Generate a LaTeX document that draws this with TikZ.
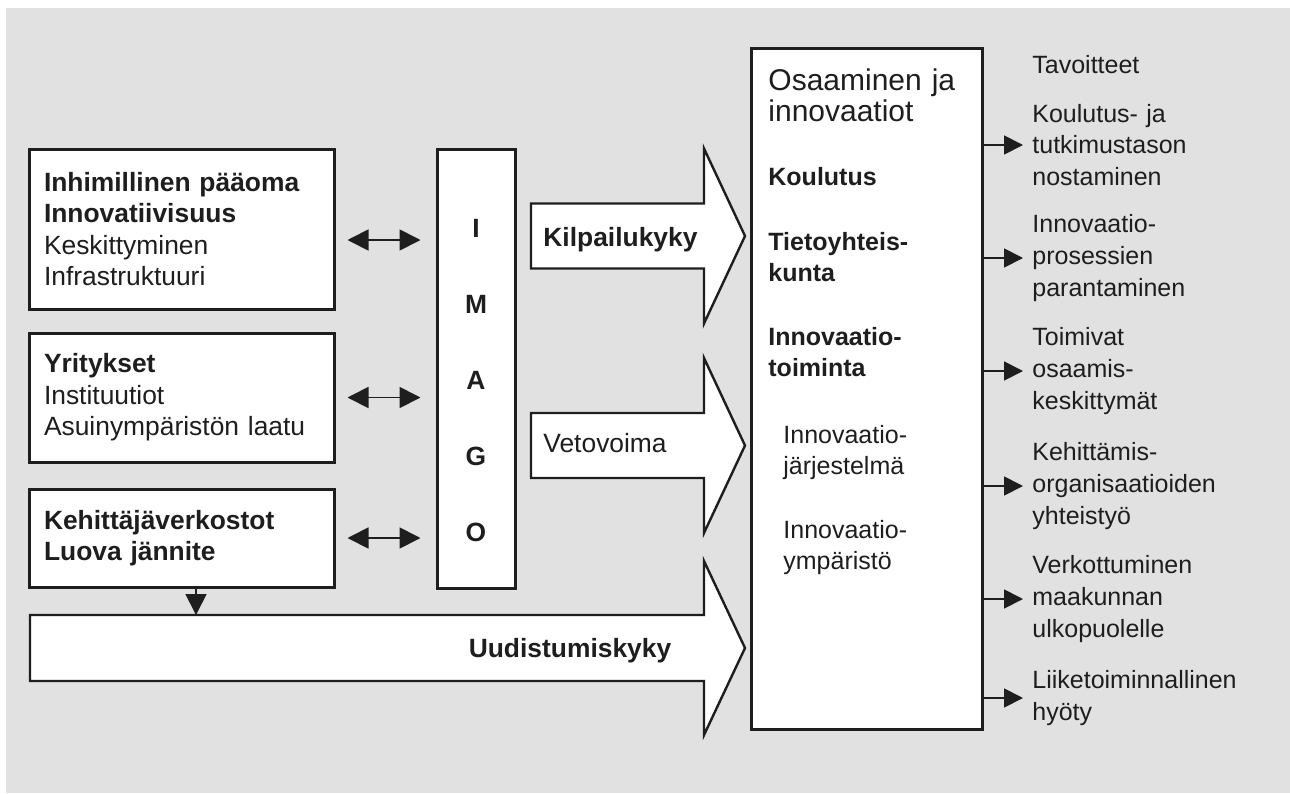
\documentclass[tikz,border=0pt]{standalone}
\usepackage{fontspec}
\setmainfont{Liberation Sans}
\usetikzlibrary{arrows.meta}
\definecolor{panel}{RGB}{225,225,225}
\definecolor{ink}{RGB}{30,30,30}

\begin{document}
\begin{tikzpicture}[
     x=0.5pt, y=-0.5pt,
     % define styles
     big/.style={
         font=\fontsize{13.2pt}{15.8pt}\selectfont,
         text=ink
     },
     small/.style={
         font=\fontsize{12.5pt}{15.8pt}\selectfont,
         text=ink
     },
     box/.style={
         big, draw=ink, fill=white, line width=1.5pt,
         align=left, inner xsep=7.5pt, inner ysep=0pt,
         text width=137.5pt, minimum width=152.5pt
     },
     tall/.style={
         draw=ink, fill=white, line width=1.5pt
     },
     label/.style={
         anchor=base west, inner sep=0pt,
         align=left, text width=100pt
     },
     goal/.style={
         small, anchor=west, inner xsep=4.5pt, inner ysep=0pt,
         align=left, text width=130pt
     },
     blockarrow/.style={
         draw=ink, fill=white, line width=1.2pt, line join=miter
     },
     conn/.style={
         draw=ink, line width=0.9pt
     },
     >={Triangle[length=10.5pt,width=10.5pt]}
]
\useasboundingbox (0,0) rectangle (1290,793);
\fill[panel] (6,8) rectangle (1290,793);

% left boxes
\node[box, minimum height=80pt] (inhim) at (181.5,229)
    {\textbf{Inhimillinen pääoma}\\\textbf{Innovatiivisuus}\\Keskittyminen\\Infrastruktuuri};
\node[box, minimum height=64.5pt] (yrit) at (181.5,397.5)
    {\textbf{Yritykset}\\Instituutiot\\Asuinympäristön laatu};
\node[box, minimum height=49pt] (kehit) at (181.5,538)
    {\textbf{Kehittäjäverkostot}\\\textbf{Luova jännite}};

% IMAGO column
\node[tall, minimum width=39pt, minimum height=219.5pt] (imago) at (476,368.5) {};
\node[big, anchor=base, inner sep=0pt, align=center, text width=30pt,
      font=\fontsize{13.2pt}{38pt}\selectfont\bfseries] (imagotxt) at (476,237)
    {I\\M\\A\\G\\O};

% left boxes <-> IMAGO
\draw[conn, <->, shorten <=6pt, shorten >=7.5pt] ([yshift=-5.5pt]inhim.east) -- ([yshift=-5.5pt]inhim.east -| imago.west);
\draw[conn, <->, shorten <=6pt, shorten >=7.5pt] (yrit.east) -- (yrit.east -| imago.west);
\draw[conn, <->, shorten <=6pt, shorten >=7.5pt] (kehit.east) -- (kehit.east -| imago.west);

% block arrows
\draw[blockarrow] (531,203.5) -- (704,203.5) -- (704,148.5) -- (745,236)
    -- (704,323.5) -- (704,268.5) -- (531,268.5) -- cycle;
\draw[blockarrow] (531,413) -- (704,413) -- (704,358) -- (745,445.5)
    -- (704,533) -- (704,478) -- (531,478) -- cycle;
\draw[blockarrow] (30,615) -- (704,615) -- (704,561) -- (745,648)
    -- (704,735) -- (704,681) -- (30,681) -- cycle;
\node[big, anchor=base west, inner sep=0pt, font=\fontsize{13.2pt}{15.8pt}\selectfont\bfseries] (kilpa) at (543,246) {Kilpailukyky};
\node[big, anchor=base west, inner sep=0pt] (veto) at (543,452) {Vetovoima};
\node[big, anchor=base, inner sep=0pt, font=\fontsize{13.2pt}{15.8pt}\selectfont\bfseries] (uudis) at (570,657) {Uudistumiskyky};

% Kehittajaverkostot -> Uudistumiskyky
\coordinate (uudtop) at (196,615);
\draw[conn, ->] (kehit.south -| uudtop) -- (uudtop);

% Osaaminen ja innovaatiot
\node[tall, minimum width=115.5pt, minimum height=340.5pt] (osa) at (866.5,388.5) {};
\node[small, label, font=\fontsize{15pt}{15.5pt}\selectfont] (osatitle) at (768,90) {Osaaminen ja\\innovaatiot};
\node[small, label, font=\fontsize{12.5pt}{15.8pt}\selectfont\bfseries] (koulutus) at (768,185) {Koulutus};
\node[small, label, font=\fontsize{12.5pt}{15.8pt}\selectfont\bfseries] (tieto) at (768,250) {Tietoyhteis-\\kunta};
\node[small, label, font=\fontsize{12.5pt}{15.8pt}\selectfont\bfseries] (innotoim) at (768,345) {Innovaatio-\\toiminta};
\node[small, label] (innojarj) at (783,443) {Innovaatio-\\järjestelmä};
\node[small, label] (innoymp) at (783,538) {Innovaatio-\\ympäristö};

% Tavoitteet
\node[small, anchor=base west, inner sep=0pt] (goalhead) at (1032,73) {Tavoitteet};
\node[goal] (g1) at (1023,145) {Koulutus- ja\\tutkimustason\\nostaminen};
\node[goal] (g2) at (1023,258) {Innovaatio-\\prosessien\\parantaminen};
\node[goal] (g3) at (1023,371) {Toimivat\\osaamis-\\keskittymät};
\node[goal] (g4) at (1023,486) {Kehittämis-\\organisaatioiden\\yhteistyö};
\node[goal] (g5) at (1023,599) {Verkottuminen\\maakunnan\\ulkopuolelle};
\node[goal] (g6) at (1023,698) {Liiketoiminnallinen\\hyöty};

\foreach \g in {g1,g2,g3,g4,g5,g6}
    \draw[conn, -{Triangle[length=9.5pt,width=9.5pt]}] (osa.east |- \g.west) -- (\g.west);

\end{tikzpicture}
\end{document}
